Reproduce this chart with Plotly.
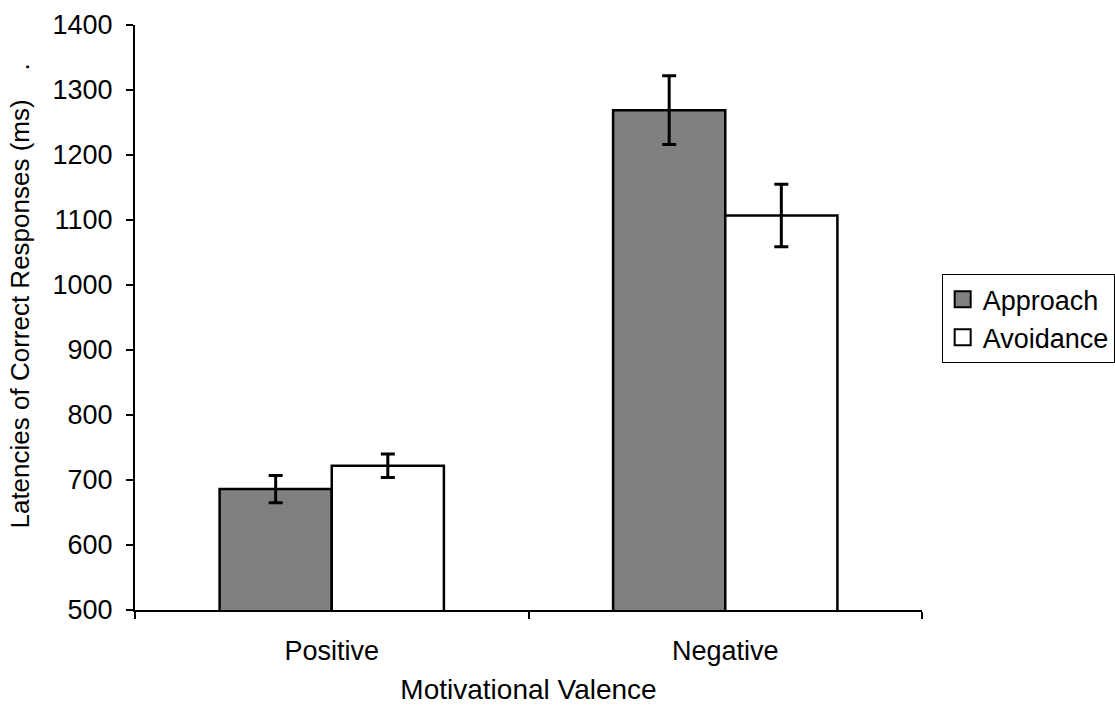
import plotly.graph_objects as go

categories = ["Positive", "Negative"]
approach = [686, 1269]
approach_err = [21, 53]
avoidance = [722, 1107]
avoidance_err = [18, 48]
y_ticks = [500, 600, 700, 800, 900, 1000, 1100, 1200, 1300, 1400]

FONT = "Liberation Sans, Arial, sans-serif"

fig = go.Figure()
fig.add_trace(go.Bar(
    name="Approach", x=categories, y=approach, showlegend=False,
    marker=dict(color="#808080", line=dict(color="black", width=2.5)),
    error_y=dict(type="data", array=approach_err, visible=True,
                 color="black", thickness=3, width=7),
))
fig.add_trace(go.Bar(
    name="Avoidance", x=categories, y=avoidance, showlegend=False,
    marker=dict(color="white", line=dict(color="black", width=2.5)),
    error_y=dict(type="data", array=avoidance_err, visible=True,
                 color="black", thickness=3, width=7),
))
# legend-only entries with larger square symbols
for name, col in [("Approach", "#808080"), ("Avoidance", "white")]:
    fig.add_trace(go.Scatter(
        name=name, x=[categories[0]], y=[None], mode="markers",
        marker=dict(symbol="square", size=16, color=col,
                    line=dict(color="black", width=2)),
        hoverinfo="skip",
    ))

fig.update_layout(
    width=1115, height=711,
    margin=dict(l=135, r=193, t=25, b=101, autoexpand=False),
    paper_bgcolor="white", plot_bgcolor="white",
    font=dict(family=FONT, size=27, color="black"),
    barmode="group", bargap=0.43, bargroupgap=0,
    showlegend=True,
    legend=dict(x=1.025, y=0.574, xanchor="left", yanchor="top",
                bordercolor="black", borderwidth=1, bgcolor="white",
                font=dict(size=27), tracegroupgap=0, itemwidth=30),
    xaxis=dict(
        range=[-0.5, 1.5], showline=True, linecolor="black", linewidth=1.5,
        ticks="outside", ticklen=7, tickcolor="black", tickwidth=1.5,
        tickson="boundaries", showgrid=False, zeroline=False,
        ticklabelstandoff=16, automargin=False,
        title=dict(text="Motivational Valence", standoff=14,
                   font=dict(size=28)),
    ),
    yaxis=dict(
        range=[500, 1400], tickvals=y_ticks, showline=True, linecolor="black",
        linewidth=2, ticks="outside", ticklen=7, tickcolor="black", tickwidth=1.5,
        showgrid=False, zeroline=False, ticklabelstandoff=8, automargin=False,
    ),
    annotations=[dict(
        text="Latencies of Correct Responses (ms)    .",
        textangle=-90, xref="paper", yref="paper",
        x=-0.146, y=0.536, xanchor="center", yanchor="middle",
        showarrow=False, font=dict(size=26),
    )],
)

fig.write_html("out.html")
